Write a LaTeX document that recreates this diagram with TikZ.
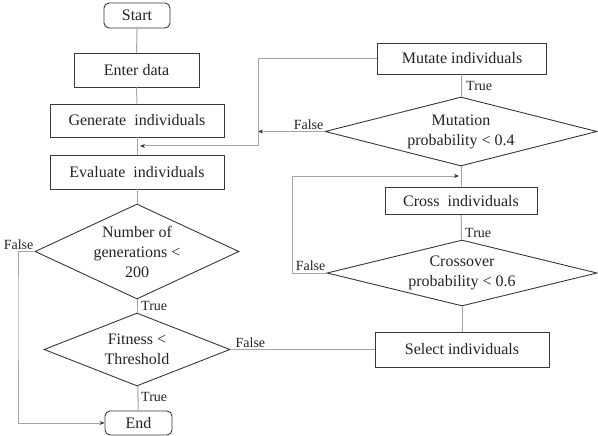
\documentclass[tikz,border=0pt]{standalone}
\usepackage{fontspec}
\setmainfont{Liberation Serif}
\usetikzlibrary{shapes.geometric,arrows.meta}
\definecolor{linegray}{RGB}{165,165,165}
\definecolor{boxgray}{RGB}{55,55,55}
\definecolor{txtgray}{RGB}{35,35,35}

\begin{document}
\begin{tikzpicture}[x=1pt,y=-1pt,>={Stealth[length=5pt,width=4pt,color=boxgray]},
    box/.style={draw=boxgray,line width=0.9pt,text=txtgray,inner sep=0pt,font=\fontsize{16}{19}\selectfont},
    term/.style={box,rounded corners=5pt},
    dia/.style={diamond,draw=boxgray,line width=0.9pt,inner sep=0pt},
    txt/.style={text=txtgray,align=center,inner sep=0pt,font=\fontsize{16}{20}\selectfont},
    tag/.style={text=txtgray,inner sep=1pt,font=\fontsize{14}{16}\selectfont},
    conn/.style={draw=linegray,line width=1pt}]
    \useasboundingbox (0,0) rectangle (598,436);
    % left column
    \node[term,minimum width=66pt,minimum height=25pt](start) at (137,15.5){Start};
    \node[box,minimum width=125pt,minimum height=34pt](enter) at (136.5,70){Enter data};
    \node[box,minimum width=174pt,minimum height=33pt](gen) at (137,120.5){Generate\ \ individuals};
    \node[box,minimum width=174pt,minimum height=34pt](eval) at (137,172){Evaluate\ \ individuals};
    \node[dia,minimum width=204pt,minimum height=95pt](numgen) at (137,251.5){};
    \node[txt](numgent) at (numgen){Number of\\generations <\\200};
    \node[dia,minimum width=186pt,minimum height=73pt](fit) at (137,349.5){};
    \node[txt](fitt) at (fit){Fitness <\\Threshold};
    \node[term,minimum width=67pt,minimum height=24pt](end) at (138.5,423){End};
    % right column
    \node[box,minimum width=169pt,minimum height=31pt](mtt) at (462,58.5){Mutate individuals};
    \node[dia,minimum width=272pt,minimum height=69pt](mut) at (461,131.5){};
    \node[txt](mutt) at (mut){Mutation\\probability < 0.4};
    \node[box,minimum width=152pt,minimum height=27pt](crs) at (461,201){Cross\ \ individuals};
    \node[dia,minimum width=270pt,minimum height=66pt](cro) at (462,273){};
    \node[txt](crot) at (cro){Crossover\\probability < 0.6};
    \node[box,minimum width=174pt,minimum height=35pt](sel) at (462,349.5){Select individuals};
    \coordinate(j1) at (140,146);
    \coordinate(lp) at (258,146);
    \coordinate(j2) at (459,176);
    \coordinate(lc) at (292,176);
    \coordinate(lb) at (18,300);
    % connectors
    \draw[conn](start)--(enter);
    \draw[conn](enter)--(gen);
    \draw[conn](gen)--(eval);
    \draw[conn](eval)--(numgen);
    \draw[conn](numgen)--(fit);
    \draw[conn](fit)--(end);
    \draw[conn,->](numgen.west)-|(lb)|-(end.west);
    \draw[conn](fit.east)--(sel.west);
    \draw[conn](sel)--(cro);
    \draw[conn](cro)--(crs);
    \draw[conn](crs)--(mut);
    \draw[conn](mut)--(mtt);
    \draw[conn,->](cro.west)-|(lc)--(j2);
    \draw[conn,->](mut.west)--(mut.west-|lp);
    \draw[conn,->](mtt.west)-|(lp)--(j1);
    % labels
    \node[tag,anchor=north west](t1) at ([xshift=3pt,yshift=-1pt]numgen.south){True};
    \node[tag,anchor=north west](t2) at ([xshift=3pt,yshift=-5pt]fit.south){True};
    \node[tag,anchor=south east](f1) at ([yshift=1pt]numgen.west){False};
    \node[tag,anchor=south west](f2) at ([xshift=4pt,yshift=1pt]fit.east){False};
    \node[tag,anchor=north west](t3) at ([xshift=3pt,yshift=-6pt]mtt.south){True};
    \node[tag,anchor=south east](f3) at ([yshift=1pt]mut.west){False};
    \node[tag,anchor=north west](t4) at ([xshift=3pt,yshift=-12pt]crs.south){True};
    \node[tag,anchor=south east](f4) at ([yshift=1pt]cro.west){False};
\end{tikzpicture}
\end{document}
